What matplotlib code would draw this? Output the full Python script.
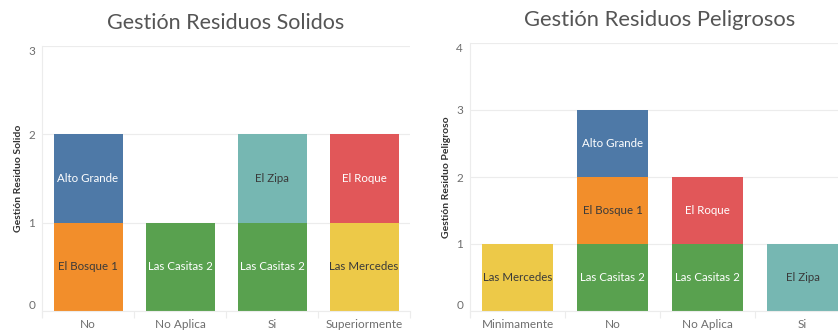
import numpy as np
import matplotlib
matplotlib.use('Agg')
import matplotlib.pyplot as plt

plt.rcParams['font.family'] = ['Lato', 'DejaVu Sans']

# fincas in stacking order, bottom to top
fincas = ['Las Mercedes', 'Las Casitas 2', 'El Bosque 1', 'El Zipa', 'El Roque', 'Alto Grande']
colores = ['#edc948', '#59a14f', '#f28e2b', '#76b7b2', '#e15759', '#4e79a7']
texto_color = ['#3a3a3a', 'white', '#3a3a3a', '#3a3a3a', 'white', 'white']

solidos_cats = ['No', 'No Aplica', 'Si', 'Superiormente']
solidos_vals = [
    [0, 0, 0, 1],   # Las Mercedes
    [0, 1, 1, 0],   # Las Casitas 2
    [1, 0, 0, 0],   # El Bosque 1
    [0, 0, 1, 0],   # El Zipa
    [0, 0, 0, 1],   # El Roque
    [1, 0, 0, 0],   # Alto Grande
]

peligrosos_cats = ['Minimamente', 'No', 'No Aplica', 'Si']
peligrosos_vals = [
    [1, 0, 0, 0],   # Las Mercedes
    [0, 1, 1, 0],   # Las Casitas 2
    [0, 1, 0, 0],   # El Bosque 1
    [0, 0, 0, 1],   # El Zipa
    [0, 0, 1, 0],   # El Roque
    [0, 1, 0, 0],   # Alto Grande
]

grid_col = '#ececec'
tick_col = '#6e6e6e'


def stacked(ax, cats, vals, ymax, title, ylabel, title_size):
    x = np.arange(len(cats))
    bottom = np.zeros(len(cats))
    for finca, fila, col, tcol in zip(fincas, vals, colores, texto_color):
        fila = np.array(fila, dtype=float)
        mask = fila > 0
        ax.bar(x[mask], fila[mask], bottom=bottom[mask], width=0.75, color=col,
               zorder=2, linewidth=0)
        for xi, b, v in zip(x[mask], bottom[mask], fila[mask]):
            ax.text(xi, b + v / 2, finca, ha='center', va='center', color=tcol,
                    fontsize=8.3, zorder=3)
        bottom += fila

    ax.set_xlim(-0.5, len(cats) - 0.5)
    ax.set_ylim(0, ymax)
    ax.set_yticks(range(ymax + 1))
    ax.yaxis.grid(True, color=grid_col, linewidth=0.8, zorder=0)
    ax.set_xticks(x)
    ax.set_xticklabels(cats)
    ax.set_xticks(np.arange(len(cats) + 1) - 0.5, minor=True)
    ax.tick_params(axis='x', which='major', length=0, pad=6, labelsize=8.5, labelcolor=tick_col)
    ax.tick_params(axis='x', which='minor', length=5, color=grid_col, width=0.8)
    ax.tick_params(axis='y', length=0, pad=5, labelsize=8.5, labelcolor=tick_col)

    labels = ax.get_yticklabels()
    labels[0].set_verticalalignment('bottom')
    labels[-1].set_verticalalignment('top')

    for s in ['top', 'right']:
        ax.spines[s].set_visible(False)
    ax.spines['left'].set_color(grid_col)
    ax.spines['bottom'].set_color(grid_col)
    ax.spines['left'].set_bounds(-0.06 * ymax / 3, ymax)

    ax.set_title(title, fontsize=title_size, color='#555555', pad=12)
    ax.set_ylabel(ylabel, fontsize=7.5, color='#333333', fontweight='bold', labelpad=4)


fig = plt.figure(figsize=(8.38, 3.30), dpi=100)
ax1 = fig.add_axes([42 / 838, 19 / 330, 368 / 838, 265 / 330])
ax2 = fig.add_axes([470 / 838, 19 / 330, 380 / 838, 268 / 330])

stacked(ax1, solidos_cats, solidos_vals, 3, 'Gestión Residuos Solidos', 'Gestión Residuo Solido', 15.5)
stacked(ax2, peligrosos_cats, peligrosos_vals, 4, 'Gestión Residuos Peligrosos', 'Gestión Residuo Peligroso', 15.8)

fig.savefig('out.png', dpi=100, facecolor='white')
